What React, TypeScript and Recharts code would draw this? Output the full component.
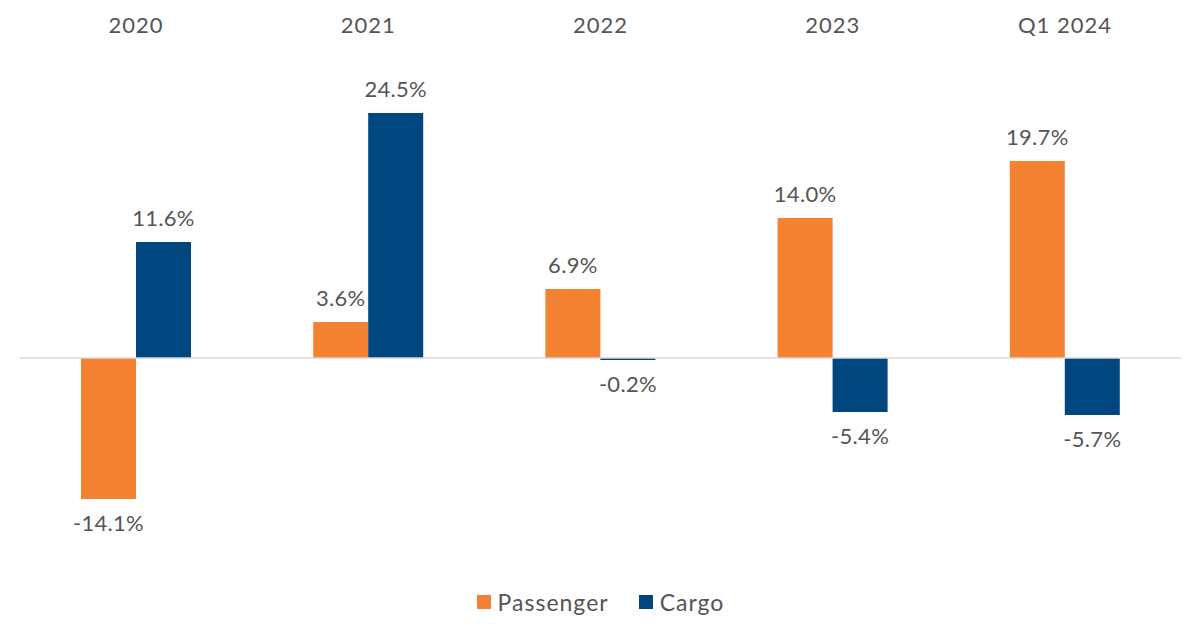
import { BarChart, Bar, XAxis, YAxis, ReferenceLine, LabelList, Legend } from "recharts";

const periods = ["2020", "2021", "2022", "2023", "Q1 2024"];
const passenger = [-14.1, 3.6, 6.9, 14.0, 19.7];
const cargo = [11.6, 24.5, -0.2, -5.4, -5.7];

const PASSENGER_COLOR = "#F58233";
const CARGO_COLOR = "#00467F";
const TEXT_COLOR = "#555555";
const FONT = "Lato, 'Open Sans', sans-serif";

const data = periods.map((p, i) => ({
  period: p,
  passenger: passenger[i],
  cargo: cargo[i],
}));

function ValueLabel(props: any) {
  const { x, y, width, height, value } = props;
  const top = Math.min(y, y + height);
  const bottom = Math.max(y, y + height);
  const ly = value >= 0 ? top - 22 : bottom + 26;
  return (
    <text
      x={x + width / 2}
      y={ly}
      textAnchor="middle"
      dominantBaseline="middle"
      fill={TEXT_COLOR}
      fontSize={22}
      fontFamily={FONT}
      letterSpacing={0.3}
    >
      {value.toFixed(1)}%
    </text>
  );
}

function LegendContent() {
  const items = [
    { label: "Passenger", color: PASSENGER_COLOR },
    { label: "Cargo", color: CARGO_COLOR },
  ];
  return (
    <div
      style={{
        height: 73,
        paddingTop: 14,
        boxSizing: "border-box",
        display: "flex",
        justifyContent: "center",
        gap: 30,
        fontFamily: FONT,
        fontSize: 23,
        letterSpacing: 1,
        color: TEXT_COLOR,
        lineHeight: "24px",
      }}
    >
      {items.map((it) => (
        <div key={it.label} style={{ display: "flex", alignItems: "center" }}>
          <span
            style={{
              display: "inline-block",
              width: 14,
              height: 14,
              background: it.color,
              marginRight: 7,
            }}
          />
          {it.label}
        </div>
      ))}
    </div>
  );
}

export default function App() {
  return (
    <div style={{ width: 1200, height: 631, background: "#fff" }}>
      <style>{"body{margin:0}"}</style>
      <BarChart
        width={1200}
        height={631}
        data={data}
        margin={{ top: 0, right: 19, bottom: 0, left: 20 }}
        barGap={0}
        barSize={55}
      >
        <XAxis
          dataKey="period"
          orientation="top"
          height={58}
          axisLine={false}
          tickLine={false}
          tickSize={0}
          tickMargin={25}
          tick={{ fill: TEXT_COLOR, fontSize: 22, fontFamily: FONT, letterSpacing: 1 }}
        />
        <YAxis hide domain={[-20, 30]} />
        <ReferenceLine y={0} stroke="#d9d9d9" strokeWidth={1.5} />
        <Legend verticalAlign="bottom" content={<LegendContent />} />
        <Bar dataKey="passenger" name="Passenger" fill={PASSENGER_COLOR} isAnimationActive={false}>
          <LabelList dataKey="passenger" content={<ValueLabel />} />
        </Bar>
        <Bar dataKey="cargo" name="Cargo" fill={CARGO_COLOR} isAnimationActive={false}>
          <LabelList dataKey="cargo" content={<ValueLabel />} />
        </Bar>
      </BarChart>
    </div>
  );
}
